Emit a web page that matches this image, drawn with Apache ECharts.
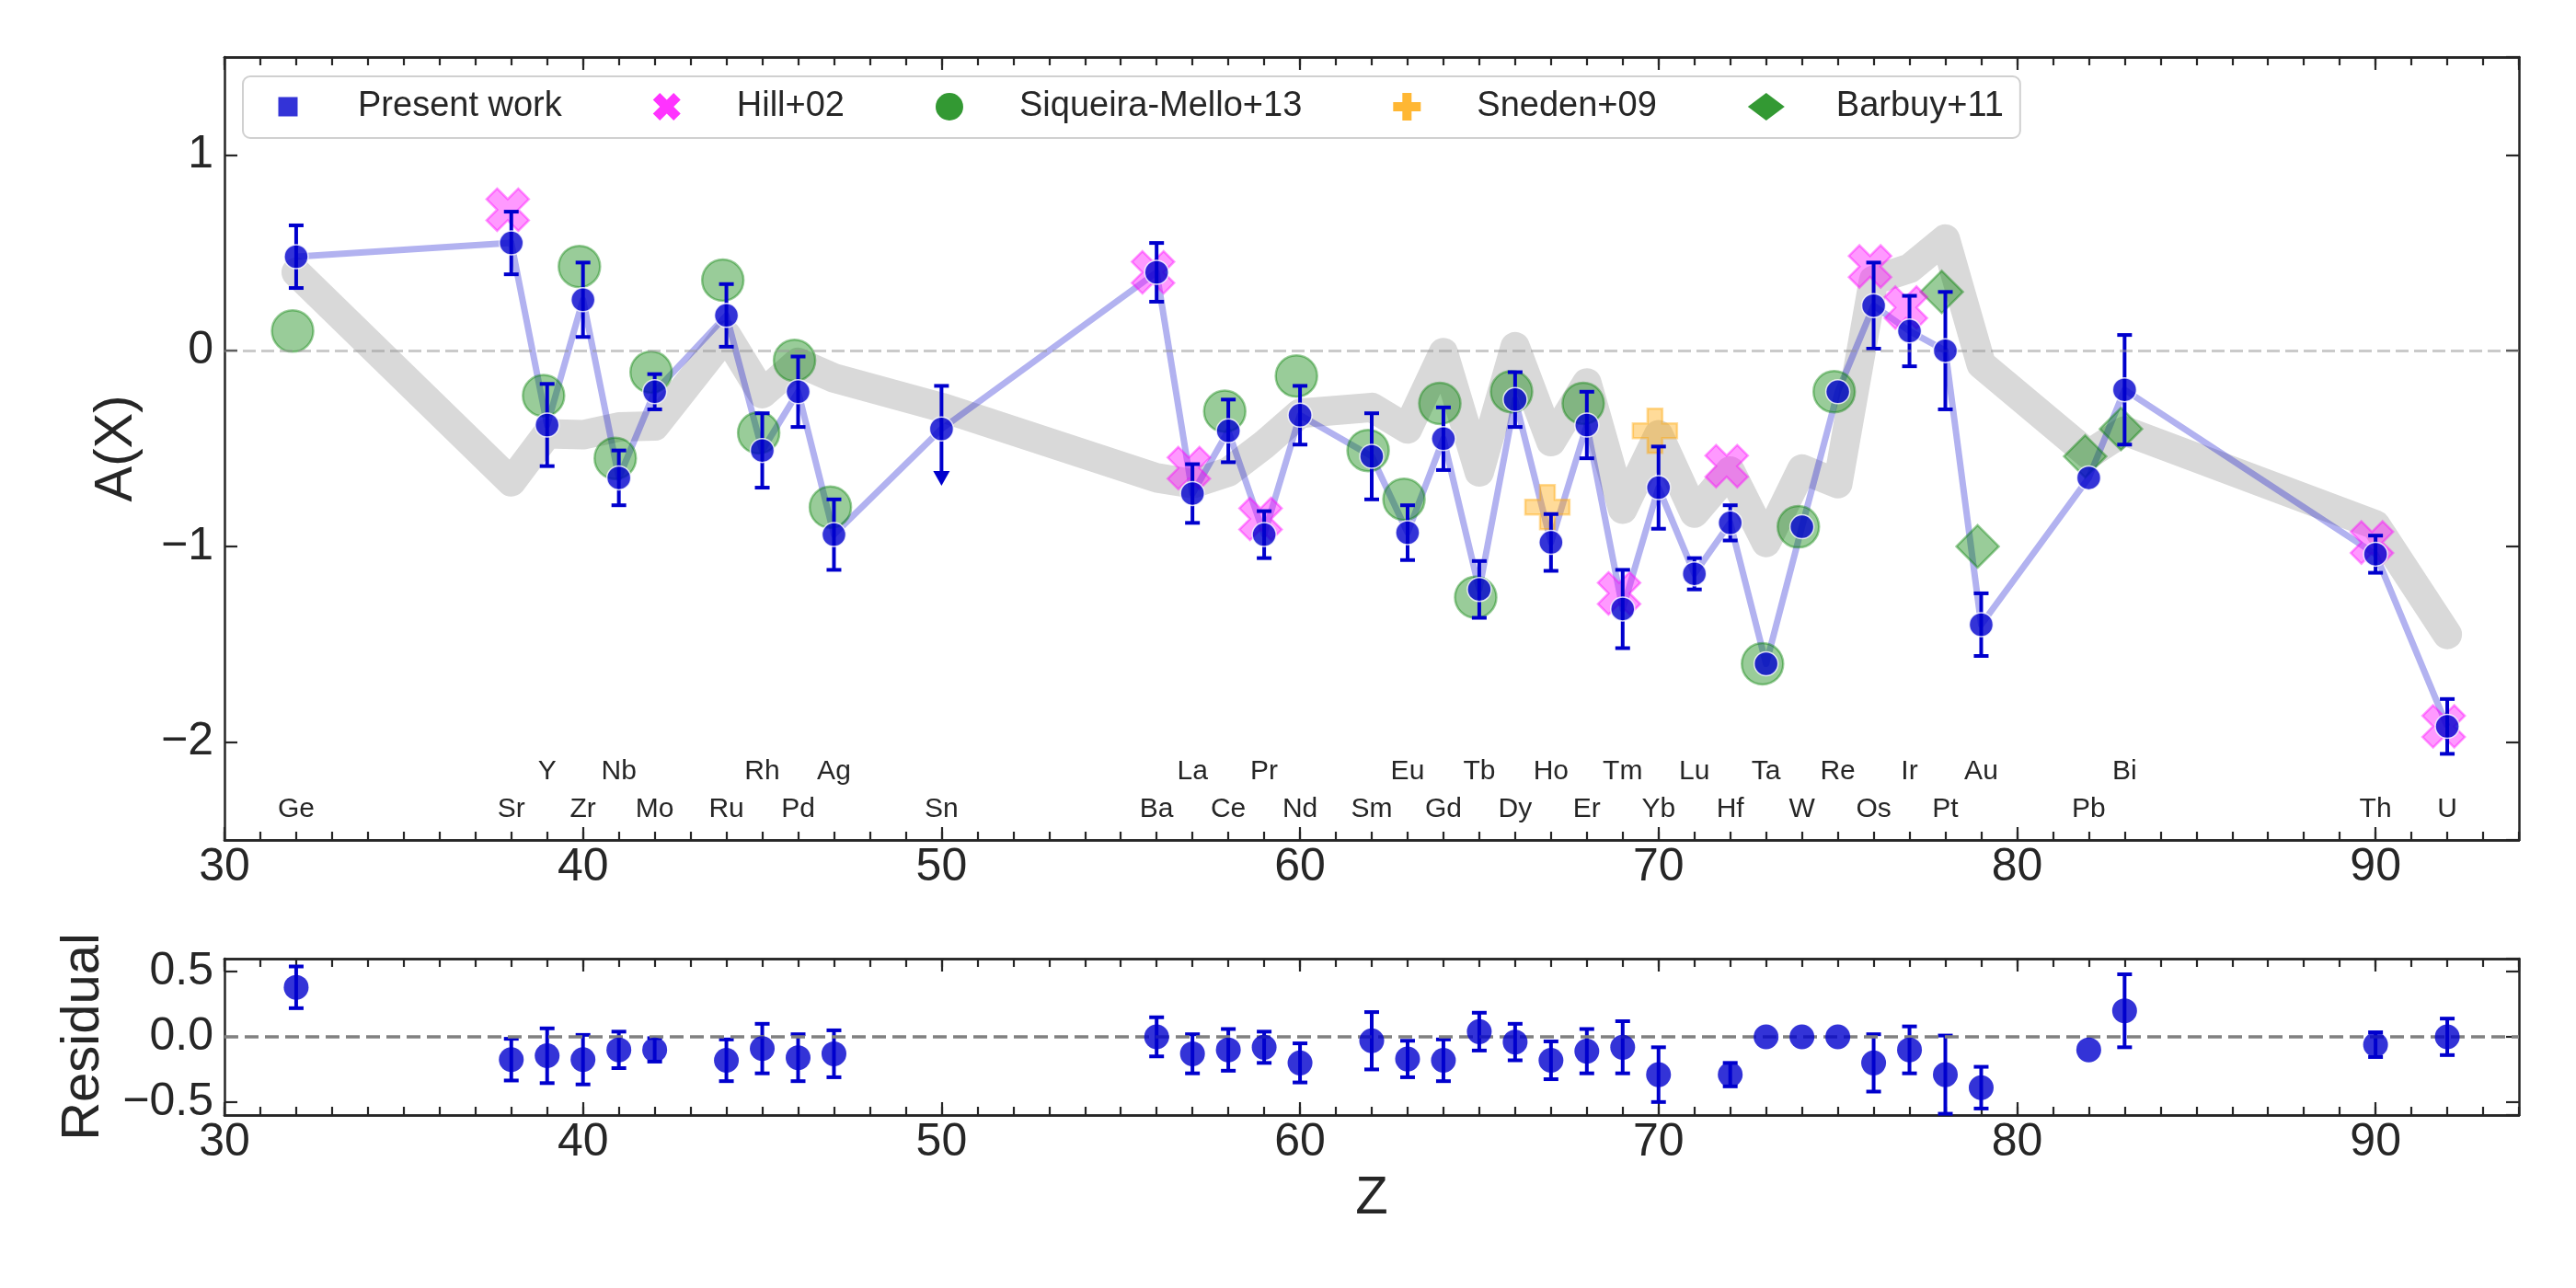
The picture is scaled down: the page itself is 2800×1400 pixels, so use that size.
<!DOCTYPE html>
<html>
<head>
<meta charset="utf-8">
<script src="https://cdn.jsdelivr.net/npm/echarts@6/dist/echarts.min.js"></script>
<style>
html, body { margin: 0; padding: 0; background: #fff; }
#main { width: 2800px; height: 1400px; }
</style>
</head>
<body>
<div id="main"></div>
<script>
// elements shown in the figure
var elements = ['Ge','Sr','Y','Zr','Nb','Mo','Ru','Rh','Pd','Ag','Sn','Ba','La','Ce','Pr','Nd','Sm','Eu','Gd','Tb',
                'Dy','Ho','Er','Tm','Yb','Lu','Hf','Ta','W','Re','Os','Ir','Pt','Au','Pb','Bi','Th','U'];
var atomicZ = [32,38,39,40,41,42,44,45,46,47,50,56,57,58,59,60,62,63,64,65,66,67,68,69,70,71,72,73,74,75,76,77,78,79,82,83,90,92];

// present work, A(X) and 1-sigma errors (Sn is an upper limit, see below)
var presentVal = [0.48,0.55,-0.38,0.26,-0.65,-0.21,0.18,-0.51,-0.21,-0.94,-0.40,0.40,-0.73,-0.41,-0.94,-0.33,-0.54,-0.93,-0.45,-1.22,
                  -0.25,-0.98,-0.38,-1.32,-0.70,-1.14,-0.88,-1.60,-0.90,-0.21,0.23,0.10,0.00,-1.40,-0.65,-0.20,-1.04,-1.92];
var presentErr = [0.16,0.16,0.21,0.19,0.14,0.09,0.16,0.19,0.18,0.18,0,0.15,0.15,0.16,0.12,0.15,0.22,0.14,0.16,0.145,
                  0.14,0.145,0.17,0.20,0.21,0.08,0.09,0,0,0,0.22,0.18,0.30,0.16,0,0.28,0.095,0.14];

// Sn upper limit
var limitZ = [50];
var limitTop = [-0.18];
var limitTip = [-0.69];

// literature values
var hillZ = [38,56,57,59,69,72,76,77,90,92];
var hillVal = [0.72,0.40,-0.60,-0.86,-1.24,-0.59,0.43,0.22,-0.98,-1.92];
var siqZ = [32,39,40,41,42,44,45,46,47,58,60,62,63,64,65,66,68,73,74,75];
var siqVal = [0.10,-0.23,0.43,-0.55,-0.11,0.36,-0.42,-0.05,-0.80,-0.31,-0.13,-0.51,-0.76,-0.27,-1.26,-0.21,-0.27,-1.60,-0.90,-0.21];
var snedenZ = [67,70];
var snedenVal = [-0.80,-0.41];
var barbuyZ = [78,79,82,83];
var barbuyVal = [0.30,-1.00,-0.54,-0.40];

// scaled solar r-process pattern (grey band)
var bandZ = [32,38,39,40,41,42,44,45,46,47,50,56,57,58,59,60,62,63,64,65,66,67,68,69,70,71,72,73,74,75,76,77,78,79,82,83,90,92];
var bandVal = [0.40,-0.67,-0.425,-0.43,-0.39,-0.385,0.08,-0.22,-0.06,-0.14,-0.29,-0.65,-0.68,-0.62,-0.48,-0.32,-0.29,-0.40,-0.01,-0.62,
               0.02,-0.465,-0.165,-0.81,-0.43,-0.83,-0.615,-0.98,-0.605,-0.68,0.36,0.42,0.57,-0.07,-0.53,-0.41,-0.89,-1.45];

// residuals (present - literature)
var residZ = [32,38,39,40,41,42,44,45,46,47,56,57,58,59,60,62,63,64,65,66,67,68,69,70,72,73,74,75,76,77,78,79,82,83,90,92];
var residVal = [0.38,-0.175,-0.145,-0.175,-0.10,-0.10,-0.18,-0.09,-0.16,-0.13,0.00,-0.13,-0.10,-0.08,-0.20,-0.03,-0.17,-0.18,0.04,-0.04,
                -0.18,-0.11,-0.08,-0.29,-0.29,0.00,0.00,0.00,-0.20,-0.10,-0.29,-0.39,-0.10,0.20,-0.06,0.00];
var residErr = [0.16,0.16,0.21,0.19,0.14,0.09,0.16,0.19,0.18,0.18,0.15,0.15,0.16,0.12,0.15,0.22,0.14,0.16,0.145,0.14,
                0.145,0.17,0.20,0.21,0.09,0,0,0,0.22,0.18,0.30,0.16,0,0.28,0.095,0.14];

var FONT = 'Liberation Sans, Arial, sans-serif';
var AX = '#262626';
var BLUE = '#0000cd';
var litShift = -0.1;   // literature points are drawn slightly left of Z
var labelRows = [-2.345, -2.15];  // even Z lower row, odd Z upper row

var xIcon = 'path://M1,0L2,1L3,0L4,1L3,2L4,3L3,4L2,3L1,4L0,3L1,2L0,1Z';
var plusIcon = 'path://M2,0H4V2H6V4H4V6H2V4H0V2H2Z';
var squareIcon = 'path://M0,0M30,30M4.5,4.5H25.5V25.5H4.5Z';

function pairs(xs, ys, dx) {
    return xs.map(function (x, i) { return [x + (dx || 0), ys[i]]; });
}

function errorBar(params, api) {
    var e = api.value(2);
    if (!e) return null;
    var top = api.coord([api.value(0), api.value(1) + e]);
    var bot = api.coord([api.value(0), api.value(1) - e]);
    var w = 8;
    var st = { stroke: BLUE, lineWidth: 4 };
    return {
        type: 'group',
        children: [
            { type: 'line', shape: { x1: top[0], y1: top[1], x2: bot[0], y2: bot[1] }, style: st },
            { type: 'line', shape: { x1: top[0] - w, y1: top[1], x2: top[0] + w, y2: top[1] }, style: st },
            { type: 'line', shape: { x1: bot[0] - w, y1: bot[1], x2: bot[0] + w, y2: bot[1] }, style: st }
        ]
    };
}

function limitArrow(params, api) {
    var top = api.coord([api.value(0), api.value(1)]);
    var tip = api.coord([api.value(0), api.value(2)]);
    var st = { stroke: BLUE, lineWidth: 4 };
    return {
        type: 'group',
        children: [
            { type: 'line', shape: { x1: top[0], y1: top[1], x2: tip[0], y2: tip[1] - 12 }, style: st },
            { type: 'line', shape: { x1: top[0] - 8, y1: top[1], x2: top[0] + 8, y2: top[1] }, style: st },
            { type: 'polygon', shape: { points: [[tip[0], tip[1]], [tip[0] - 9, tip[1] - 16], [tip[0] + 9, tip[1] - 16]] },
              style: { fill: BLUE } }
        ]
    };
}

function elemLabel(params, api) {
    var p = api.coord([api.value(0), api.value(1)]);
    return {
        type: 'text',
        x: p[0], y: p[1],
        style: {
            text: elements[params.dataIndex], fill: AX, fontSize: 30, fontFamily: FONT,
            align: 'center', verticalAlign: 'middle'
        }
    };
}

function xAxisDef(gi, pos, step, tickLen, showLabels) {
    return {
        type: 'value', gridIndex: gi, position: pos, min: 30, max: 94, interval: step,
        axisLine: { show: true, onZero: false, lineStyle: { color: AX, width: 2.5 } },
        axisTick: { show: true, inside: true, length: tickLen, lineStyle: { color: AX, width: 2.2 } },
        axisLabel: { show: showLabels, fontSize: 50, color: AX, margin: 5, fontFamily: FONT, showMaxLabel: false },
        splitLine: { show: false }
    };
}

function mainY(v) {
    return Math.abs(v - Math.round(v)) < 1e-9 ? String(Math.round(v)).replace('-', '\u2212') : '';
}
function residY(v) {
    return Math.abs(v * 2 - Math.round(v * 2)) < 1e-9 ? v.toFixed(1).replace('-', '\u2212') : '';
}

function yAxisDef(gi, pos, showLabels, min, max, split, fmt) {
    return {
        type: 'value', gridIndex: gi, position: pos, min: min, max: max, splitNumber: split,
        axisLine: { show: true, onZero: false, lineStyle: { color: AX, width: 2.5 } },
        axisTick: { show: true, inside: true, length: 14, lineStyle: { color: AX, width: 2.2 } },
        axisLabel: { show: showLabels, fontSize: 50, color: AX, margin: 12, fontFamily: FONT,
                     showMinLabel: false, showMaxLabel: false, formatter: fmt },
        splitLine: { show: false }
    };
}

var myChart = echarts.init(document.getElementById('main'));

var xAxes = [
    xAxisDef(0, 'bottom', 10, 14, true),
    xAxisDef(0, 'top', 10, 14, false),
    xAxisDef(1, 'bottom', 1, 9, false),
    xAxisDef(1, 'top', 1, 9, false),
    xAxisDef(2, 'bottom', 10, 14, true),
    xAxisDef(2, 'top', 10, 14, false),
    xAxisDef(3, 'bottom', 1, 9, false),
    xAxisDef(3, 'top', 1, 9, false)
];
xAxes[4].name = 'Z';
xAxes[4].nameLocation = 'middle';
xAxes[4].nameGap = 62;
xAxes[4].nameTextStyle = { fontSize: 58, color: AX, fontFamily: FONT };

var yAxes = [
    yAxisDef(0, 'left', true, -2.5, 1.5, 4, mainY),
    yAxisDef(0, 'right', false, -2.5, 1.5, 4, mainY),
    { type: 'value', gridIndex: 1, show: false, min: -2.5, max: 1.5 },
    yAxisDef(2, 'left', true, -0.6, 0.6, 2, residY),
    yAxisDef(2, 'right', false, -0.6, 0.6, 2, residY),
    { type: 'value', gridIndex: 3, show: false, min: -0.6, max: 0.6 }
];
yAxes[0].name = 'A(X)';
yAxes[0].nameLocation = 'middle';
yAxes[0].nameGap = 88;
yAxes[0].nameTextStyle = { fontSize: 58, color: AX, fontFamily: FONT };
yAxes[3].name = 'Residual';
yAxes[3].nameLocation = 'middle';
yAxes[3].nameGap = 124;
yAxes[3].nameTextStyle = { fontSize: 58, color: AX, fontFamily: FONT };

var litStyle = function (rgb) {
    return { color: 'rgba(' + rgb + ',0.5)', borderColor: 'rgba(' + rgb + ',0.5)', borderWidth: 2.5 };
};

var option = {
    backgroundColor: '#ffffff',
    animation: false,
    textStyle: { fontFamily: FONT },
    grid: [
        { left: 244, top: 62, width: 2494, height: 851 },
        { left: 244, top: 62, width: 2494, height: 851 },
        { left: 244, top: 1042, width: 2494, height: 170 },
        { left: 244, top: 1042, width: 2494, height: 170 }
    ],
    xAxis: xAxes,
    yAxis: yAxes,
    legend: {
        left: 264, top: 83,
        orient: 'horizontal',
        itemWidth: 40, itemHeight: 30, itemGap: 99,
        padding: [11, 18, 12, 34],
        backgroundColor: 'rgba(255,255,255,0.8)',
        borderColor: '#d0d0d0', borderWidth: 2, borderRadius: 8,
        textStyle: { fontSize: 38, color: AX, fontFamily: FONT, padding: [0, 0, 0, 51], lineHeight: 44 },
        selectedMode: false,
        data: [
            { name: 'Present work', icon: squareIcon, itemStyle: { color: BLUE, borderWidth: 0 } },
            { name: 'Hill+02', icon: xIcon, itemStyle: { color: '#ff00ff', borderWidth: 0 } },
            { name: 'Siqueira-Mello+13', icon: 'circle', itemStyle: { color: '#008000', borderWidth: 0 } },
            { name: 'Sneden+09', icon: plusIcon, itemStyle: { color: '#ffa500', borderWidth: 0 } },
            { name: 'Barbuy+11', icon: 'diamond', itemStyle: { color: '#008000', borderWidth: 0 } }
        ]
    },
    series: [
        {
            name: 'r-process', type: 'line', xAxisIndex: 0, yAxisIndex: 0, z: 1, silent: true,
            data: pairs(bandZ, bandVal), symbol: 'none',
            lineStyle: { color: '#d9d9d9', width: 32, cap: 'round', join: 'round' },
            markLine: {
                silent: true, symbol: 'none', label: { show: false },
                lineStyle: { type: [14, 6], color: 'rgba(150,150,150,0.5)', width: 3 },
                data: [{ yAxis: 0 }]
            }
        },
        {
            name: 'pw-line', type: 'line', xAxisIndex: 0, yAxisIndex: 0, z: 2, silent: true,
            data: pairs(atomicZ, presentVal), symbol: 'none',
            lineStyle: { color: 'rgba(0,0,205,0.3)', width: 7, join: 'round' }
        },
        {
            name: 'Siqueira-Mello+13', type: 'scatter', xAxisIndex: 0, yAxisIndex: 0, z: 3, silent: true,
            data: pairs(siqZ, siqVal, litShift), symbol: 'circle', symbolSize: 45,
            itemStyle: litStyle('0,128,0')
        },
        {
            name: 'Barbuy+11', type: 'scatter', xAxisIndex: 0, yAxisIndex: 0, z: 3, silent: true,
            data: pairs(barbuyZ, barbuyVal, litShift), symbol: 'diamond', symbolSize: 46,
            itemStyle: litStyle('0,128,0')
        },
        {
            name: 'Hill+02', type: 'scatter', xAxisIndex: 0, yAxisIndex: 0, z: 3, silent: true,
            data: pairs(hillZ, hillVal, litShift), symbol: xIcon, symbolSize: 46,
            itemStyle: litStyle('255,0,255')
        },
        {
            name: 'Sneden+09', type: 'scatter', xAxisIndex: 0, yAxisIndex: 0, z: 3, silent: true,
            data: pairs(snedenZ, snedenVal, litShift), symbol: plusIcon, symbolSize: 48,
            itemStyle: litStyle('255,165,0')
        },
        {
            name: 'pw-err', type: 'custom', xAxisIndex: 0, yAxisIndex: 0, z: 4, silent: true,
            renderItem: errorBar, encode: { x: 0, y: 1 },
            data: atomicZ.map(function (z, i) { return [z, presentVal[i], presentErr[i]]; })
        },
        {
            name: 'pw-limit', type: 'custom', xAxisIndex: 0, yAxisIndex: 0, z: 4, silent: true,
            renderItem: limitArrow, encode: { x: 0, y: 1 },
            data: limitZ.map(function (z, i) { return [z, limitTop[i], limitTip[i]]; })
        },
        {
            name: 'Present work', type: 'scatter', xAxisIndex: 0, yAxisIndex: 0, z: 6, silent: true,
            data: pairs(atomicZ, presentVal), symbol: 'circle', symbolSize: 26,
            itemStyle: { color: BLUE, borderColor: '#ffffff', borderWidth: 1.5 }
        },
        {
            name: 'labels', type: 'custom', xAxisIndex: 0, yAxisIndex: 0, z: 5, silent: true,
            renderItem: elemLabel, encode: { x: 0, y: 1 },
            data: atomicZ.map(function (z) { return [z, labelRows[z % 2]]; })
        },
        {
            name: 'resid-err', type: 'custom', xAxisIndex: 4, yAxisIndex: 3, z: 4, silent: true,
            renderItem: errorBar, encode: { x: 0, y: 1 },
            data: residZ.map(function (z, i) { return [z, residVal[i], residErr[i]]; }),
            markLine: {
                silent: true, symbol: 'none', label: { show: false },
                lineStyle: { type: [15, 7], color: '#808080', width: 3.5 },
                data: [{ yAxis: 0 }]
            }
        },
        {
            name: 'resid', type: 'scatter', xAxisIndex: 4, yAxisIndex: 3, z: 6, silent: true,
            data: pairs(residZ, residVal), symbol: 'circle', symbolSize: 27,
            itemStyle: { color: BLUE }
        }
    ]
};

myChart.setOption(option);
</script>
</body>
</html>
